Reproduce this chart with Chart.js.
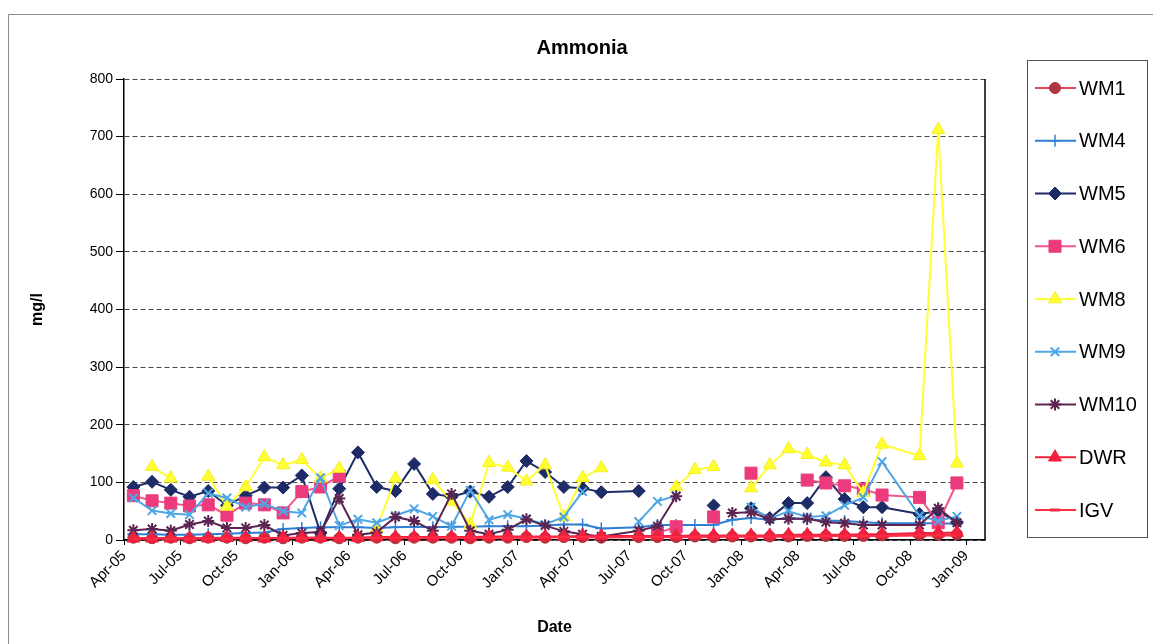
<!DOCTYPE html>
<html>
<head>
<meta charset="utf-8">
<title>Ammonia</title>
<script src="https://cdn.jsdelivr.net/npm/chart.js"></script>
<style>
  html, body { margin: 0; padding: 0; background: #ffffff; }
  canvas { display: block; }
</style>
</head>
<body>
<canvas id="chart" width="1153" height="644"></canvas>
<script>
// ---- Text ----
const chartTitle = 'Ammonia';
const xAxisTitle = 'Date';
const yAxisTitle = 'mg/l';

// ---- Axes ----
const axisStart = '2005-04';   // left edge of the date axis
const axisEnd = '2009-02';     // right edge (end of the Jan-09 month)
const tickLabels = ['Apr-05', 'Jul-05', 'Oct-05', 'Jan-06', 'Apr-06', 'Jul-06', 'Oct-06', 'Jan-07',
                    'Apr-07', 'Jul-07', 'Oct-07', 'Jan-08', 'Apr-08', 'Jul-08', 'Oct-08', 'Jan-09'];
const monthsPerTick = 3;
const yMin = 0;
const yMax = 800;
const yStep = 100;

// ---- Sampling months ----
const sampleMonths = [
  '2005-04', '2005-05', '2005-06', '2005-07', '2005-08', '2005-09', '2005-10', '2005-11', '2005-12',
  '2006-01', '2006-02', '2006-03', '2006-04', '2006-05', '2006-06', '2006-07', '2006-08', '2006-09',
  '2006-10', '2006-11', '2006-12', '2007-01', '2007-02', '2007-03', '2007-04', '2007-05', '2007-07',
  '2007-08', '2007-09', '2007-10', '2007-11', '2007-12', '2008-01', '2008-02', '2008-03', '2008-04',
  '2008-05', '2008-06', '2008-07', '2008-08', '2008-10', '2008-11', '2008-12'
];

// ---- Ammonia, mg/l (null = not sampled) ----
const WM1 = [4, 3, 4, 3, 4, 4, 3, 4, 3, 4, 4, 3, 4, 4, 3, 4, 4, 4, 3, 4, 4, 5, 4, 5, 5, 4,
             5, 5, 5, 6, 5, 6, 6, 6, 6, 7, 7, 7, 7, 8, 9, 9, 10];
const WM4 = [10, 10, 9, 9, 10, 11, 12, 13, 19, 21, 22, 22, 22, 21, 22, 23, 22, 23, 23, 24, 24, 24, 25, 27, 27, 20,
             22, 26, 26, 26, 26, 35, 38, 35, 38, 36, 34, 33, 31, 29, 29, 29, 28];
const WM5 = [92, 101, 87, 75, 85, 60, 77, 91, 91, 112, 12, 89, 152, 92, 85, 132, 80, 75, 84, 75, 92, 137, 118, 92, 90, 83,
             85, null, null, null, 60, null, 55, 38, 64, 64, 109, 71, 57, 57, 45, 50, 31];
const WM6 = [77, 68, 64, 59, 61, 43, 64, 61, 47, 84, 92, 111, null, null, null, null, null, null, null, null, null, null, null, null, null, null,
             null, 12, 23, null, 40, null, 116, null, null, 104, 99, 94, 88, 78, 74, 30, 99];
const WM8 = [null, 127, 107, null, 110, 58, 92, 144, 130, 139, 107, 124, null, 20, 107, null, 104, 67, 27, 134, 126, 102, 130, 40, 108, 125,
             null, null, 92, 122, 127, null, 90, 130, 158, 148, 135, 130, 82, 166, 146, 712, 133];
const WM9 = [73, 51, 46, 44, 81, 73, 57, 63, 50, 47, 108, 25, 36, 30, 42, 54, 41, 24, 86, 35, 44, 37, 27, 40, 84, null,
             32, 67, 77, null, null, null, 57, 37, 50, 40, 42, 60, 74, 136, 42, 33, 41];
const WM10 = [17, 19, 16, 27, 33, 21, 21, 26, 8, 12, 14, 72, 9, 13, 40, 33, 16, 80, 16, 10, 18, 36, 25, 15, 10, 6,
              16, 24, 76, null, null, 47, 48, 36, 37, 37, 31, 29, 26, 26, 26, 55, 30];
const DWR = [3, 3, 3, 3, 3, 4, 4, 3, 4, 4, 4, 4, 4, 5, 5, 5, 5, 5, 5, 6, 6, 6, 6, 6, 7, 7,
             7, 7, 7, 8, 8, 8, 8, 8, 9, 9, 9, 9, 10, 10, 12, 12, 13];
const IGV = [2, 2, 2, 2, 2, 2, 3, 3, 3, 3, 3, 3, 3, 3, 4, 4, 4, 4, 4, 4, 4, 4, 5, 5, 5, 5,
             5, 5, 5, 5, 6, 6, 6, 6, 6, 6, 7, 7, 7, 7, 8, 8, 8];

const seriesNames = ['WM1', 'WM4', 'WM5', 'WM6', 'WM8', 'WM9', 'WM10', 'DWR', 'IGV'];
const seriesValues = [WM1, WM4, WM5, WM6, WM8, WM9, WM10, DWR, IGV];

// ---- Series appearance ----
const seriesStyles = {
  WM1:  { line: '#e4475c', fill: '#b3343e', edge: '#b3343e', shape: 'circle',   r: 5.5, w: 1 },
  WM4:  { line: '#2f80d4', fill: '#2f80d4', edge: '#2f80d4', shape: 'cross',    r: 6,   w: 1.5 },
  WM5:  { line: '#1d2b66', fill: '#1d2b66', edge: '#1d2b66', shape: 'rectRot',  r: 6.5, w: 1 },
  WM6:  { line: '#f0568c', fill: '#ec3b7c', edge: '#ec3b7c', shape: 'rect',     r: 8.5, w: 1 },
  WM8:  { line: '#ffff33', fill: '#ffff33', edge: '#f4f020', shape: 'triangle', r: 7.5, w: 1 },
  WM9:  { line: '#4ea6e6', fill: '#4ea6e6', edge: '#4ea6e6', shape: 'crossRot', r: 6,   w: 2 },
  WM10: { line: '#5c2450', fill: '#5c2450', edge: '#5c2450', shape: 'star',     r: 6,   w: 2 },
  DWR:  { line: '#f2203e', fill: '#f2203e', edge: '#f2203e', shape: 'triangle', r: 7.5, w: 1 },
  IGV:  { line: '#ff2d45', fill: '#ff2d45', edge: '#ff2d45', shape: 'dash',     r: 0,   w: 3 }
};

const FONT = "'Liberation Sans', Arial, Helvetica, sans-serif";

// Months counted from the left edge of the date axis
function monthIndex(ym) {
  const [y, m] = ym.split('-').map(Number);
  const [y0, m0] = axisStart.split('-').map(Number);
  return (y - y0) * 12 + (m - m0);
}

// Each monthly sample sits in the middle of its month slot
const sampleX = sampleMonths.map(m => monthIndex(m) + 0.5);

const datasets = seriesNames.map((name, i) => {
  const st = seriesStyles[name];
  return {
    label: name,
    data: sampleX.map((x, k) => ({ x: x, y: seriesValues[i][k] })),
    borderColor: st.line,
    backgroundColor: st.fill,
    borderWidth: 2,
    pointStyle: st.shape,
    pointRadius: st.r,
    pointHoverRadius: st.r,
    pointBackgroundColor: st.fill,
    pointBorderColor: st.edge,
    pointBorderWidth: st.w,
    tension: 0,
    spanGaps: false,
    clip: false,
    // first series at the back, later series drawn over it
    order: seriesNames.length - i
  };
});

// Marker shapes for the legend, same geometry as the line markers
function drawMarker(ctx, shape, r, x, y) {
  const c45 = Math.SQRT1_2;
  ctx.beginPath();
  switch (shape) {
    case 'circle':
      ctx.arc(x, y, r, 0, Math.PI * 2);
      ctx.closePath(); ctx.fill(); ctx.stroke();
      break;
    case 'triangle':
      ctx.moveTo(x, y - r);
      ctx.lineTo(x + r * 0.866, y + r * 0.5);
      ctx.lineTo(x - r * 0.866, y + r * 0.5);
      ctx.closePath(); ctx.fill(); ctx.stroke();
      break;
    case 'rect': {
      const s = r * c45;
      ctx.rect(x - s, y - s, 2 * s, 2 * s);
      ctx.fill(); ctx.stroke();
      break;
    }
    case 'rectRot':
      ctx.moveTo(x - r, y); ctx.lineTo(x, y - r); ctx.lineTo(x + r, y); ctx.lineTo(x, y + r);
      ctx.closePath(); ctx.fill(); ctx.stroke();
      break;
    case 'cross':
      ctx.moveTo(x, y - r); ctx.lineTo(x, y + r);
      ctx.moveTo(x - r, y); ctx.lineTo(x + r, y);
      ctx.stroke();
      break;
    case 'crossRot':
      ctx.moveTo(x - r * c45, y - r * c45); ctx.lineTo(x + r * c45, y + r * c45);
      ctx.moveTo(x - r * c45, y + r * c45); ctx.lineTo(x + r * c45, y - r * c45);
      ctx.stroke();
      break;
    case 'star':
      ctx.moveTo(x, y - r); ctx.lineTo(x, y + r);
      ctx.moveTo(x - r, y); ctx.lineTo(x + r, y);
      ctx.moveTo(x - r * c45, y - r * c45); ctx.lineTo(x + r * c45, y + r * c45);
      ctx.moveTo(x - r * c45, y + r * c45); ctx.lineTo(x + r * c45, y - r * c45);
      ctx.stroke();
      break;
    case 'dash':
      ctx.moveTo(x - r, y); ctx.lineTo(x + r, y);
      ctx.stroke();
      break;
  }
}

// Page frame, title, right edge of the plot and the boxed legend
const decorations = {
  id: 'decorations',
  beforeDraw(chart) {
    const ctx = chart.ctx;
    ctx.save();
    ctx.fillStyle = '#ffffff';
    ctx.fillRect(0, 0, chart.width, chart.height);
    ctx.strokeStyle = '#8c8c8c';
    ctx.lineWidth = 1;
    ctx.beginPath();
    ctx.moveTo(8.5, chart.height);
    ctx.lineTo(8.5, 14.5);
    ctx.lineTo(chart.width, 14.5);
    ctx.stroke();
    ctx.restore();
  },
  afterDraw(chart) {
    const ctx = chart.ctx;
    const a = chart.chartArea;
    ctx.save();

    // right edge of the plot area
    ctx.strokeStyle = '#000000';
    ctx.lineWidth = 1.5;
    ctx.beginPath();
    ctx.moveTo(a.right, a.top);
    ctx.lineTo(a.right, a.bottom);
    ctx.stroke();

    // title
    ctx.fillStyle = '#000000';
    ctx.font = 'bold 20px ' + FONT;
    ctx.textAlign = 'center';
    ctx.textBaseline = 'middle';
    ctx.fillText(chartTitle, 582, 48);

    // legend box
    const box = { x: 1027, y: 60, w: 120, h: 477 };
    ctx.strokeStyle = '#555555';
    ctx.lineWidth = 1;
    ctx.strokeRect(box.x + 0.5, box.y + 0.5, box.w, box.h);

    const rowTop = 88, rowStep = 52.75;
    chart.data.datasets.forEach((ds, i) => {
      const st = seriesStyles[ds.label];
      const y = rowTop + i * rowStep;
      ctx.strokeStyle = st.line;
      ctx.lineWidth = 2;
      ctx.beginPath();
      ctx.moveTo(1035, y);
      ctx.lineTo(1076, y);
      ctx.stroke();

      ctx.fillStyle = st.fill;
      ctx.strokeStyle = st.edge;
      ctx.lineWidth = st.w;
      drawMarker(ctx, st.shape, st.shape === 'dash' ? 5 : st.r, 1055, y);

      ctx.fillStyle = '#000000';
      ctx.font = '20px ' + FONT;
      ctx.textAlign = 'left';
      ctx.textBaseline = 'middle';
      ctx.fillText(ds.label, 1079, y + 1);
    });
    ctx.restore();
  }
};

Chart.defaults.font.family = FONT;
Chart.defaults.color = '#000000';

new Chart(document.getElementById('chart'), {
  type: 'line',
  data: { datasets: datasets },
  options: {
    responsive: false,
    animation: false,
    devicePixelRatio: 1,
    layout: { padding: { left: 20, right: 168, top: 79, bottom: 6 } },
    plugins: {
      legend: { display: false },
      title: { display: false },
      tooltip: { enabled: false }
    },
    scales: {
      x: {
        type: 'linear',
        min: 0,
        max: monthIndex(axisEnd),
        afterBuildTicks(axis) {
          axis.ticks = tickLabels.map((_, i) => ({ value: i * monthsPerTick }));
        },
        afterFit(axis) { axis.height = 98; },
        ticks: {
          autoSkip: false,
          minRotation: 45,
          maxRotation: 45,
          padding: 2,
          color: '#000000',
          font: { size: 15 },
          callback: (value, index) => tickLabels[index]
        },
        grid: { drawOnChartArea: false, drawTicks: true, tickLength: 5, color: '#000000' },
        border: { color: '#000000', width: 1.5 },
        title: {
          display: true, text: xAxisTitle, color: '#000000',
          font: { size: 16, weight: 'bold' }, padding: { top: 0, bottom: 1 }
        }
      },
      y: {
        min: yMin,
        max: yMax,
        afterFit(axis) { axis.width = 104; },
        ticks: { stepSize: yStep, padding: 3, color: '#000000', font: { size: 14 } },
        grid: { color: '#4d4d4d', lineWidth: 1, tickLength: 8, tickColor: '#000000' },
        border: { color: '#000000', width: 1.5, dash: [5, 3] },
        title: {
          display: true, text: yAxisTitle, color: '#000000',
          font: { size: 16, weight: 'bold' }, padding: { top: 8, bottom: 0 }
        }
      }
    }
  },
  plugins: [decorations]
});
</script>
</body>
</html>
